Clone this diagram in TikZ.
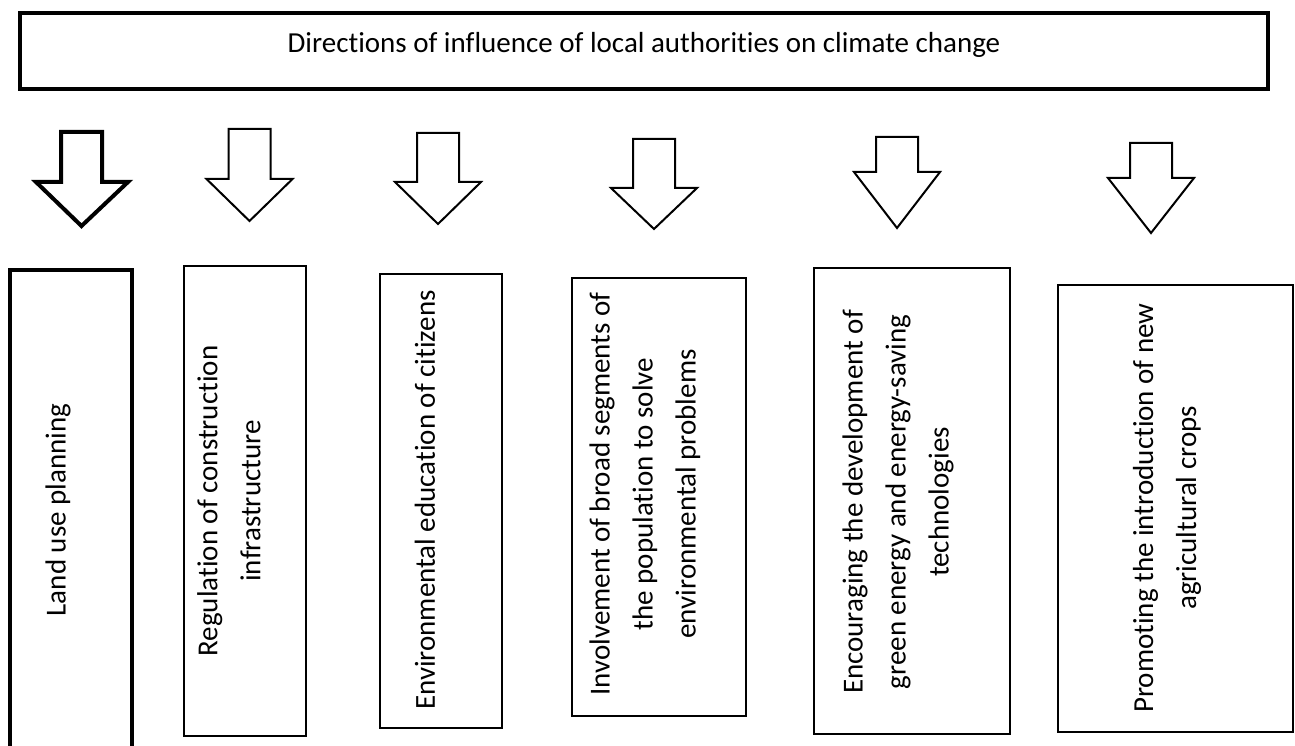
\documentclass[tikz,border=0pt]{standalone}
\usepackage{fontspec}
\setmainfont{Carlito}[Ligatures=NoCommon]
\usetikzlibrary{calc}

\begin{document}
\begin{tikzpicture}[
    x=1pt, y=-1pt,
    box/.style={draw, line width=2pt, inner sep=0pt},
    thickbox/.style={box, line width=4.5pt},
    lbl/.style={rotate=90, align=center, inner sep=0pt, font=\fontsize{29}{43}\selectfont},
    blockarrow/.style={draw, line width=2pt, line join=miter, fill=white}
]

    \useasboundingbox (0,0) rectangle (1295,746);
    \clip (0,0) rectangle (1295,746);


    % title
    \node[thickbox, minimum width=1248pt, minimum height=76pt] (title) at (644,51) {};
    \node[font=\fontsize{29}{43}\selectfont, anchor=base, inner sep=0pt] (titletxt) at (644,52.5)
        {Directions of influence of local authorities on climate change};


    % arrows
    \draw[blockarrow, line width=4pt]
        (61,132) -- (102,132) -- (102,182) -- (128,182) --
        (81.5,226) -- (36,182) -- (61,182) -- cycle;

    \foreach \x/\ya/\yb/\yc in {249.5/129/179/221, 438/133/182/224,
                                654/139/188/229, 897/137/172/228, 1151/143/178/233}
        \draw[blockarrow]
            (\x-21,\ya) -- (\x+21,\ya) -- (\x+21,\yb) -- (\x+43,\yb) --
            (\x,\yc) -- (\x-43,\yb) -- (\x-21,\yb) -- cycle;


    % boxes
    \node[thickbox, minimum width=122pt, minimum height=520pt] (land) at (71,530) {};
    \node[box, minimum width=122pt, minimum height=470pt] (regul) at (245,501) {};
    \node[box, minimum width=122pt, minimum height=454pt] (educ) at (441,501) {};
    \node[box, minimum width=174pt, minimum height=438pt] (involv) at (659,497) {};
    \node[box, minimum width=196pt, minimum height=466pt] (energy) at (912,501) {};
    \node[box, minimum width=235pt, minimum height=447pt] (crops) at (1175.5,508.5) {};


    % texts
    \node[lbl] (landtxt) at (58,510) {Land use planning};
    \node[lbl] (regultxt) at (229,501) {Regulation of construction\\infrastructure};
    \node[lbl] (eductxt) at (425,500) {Environmental education of citizens};
    \node[lbl] (involvtxt) at (645,494)
        {Involvement of broad segments of\\the population to solve\\environmental problems};
    \node[lbl] (energytxt) at (898,502)
        {Encouraging the development of\\green energy and energy-saving\\technologies};
    \node[lbl] (cropstxt) at (1167,508) {Promoting the introduction of new\\agricultural crops};

\end{tikzpicture}
\end{document}
